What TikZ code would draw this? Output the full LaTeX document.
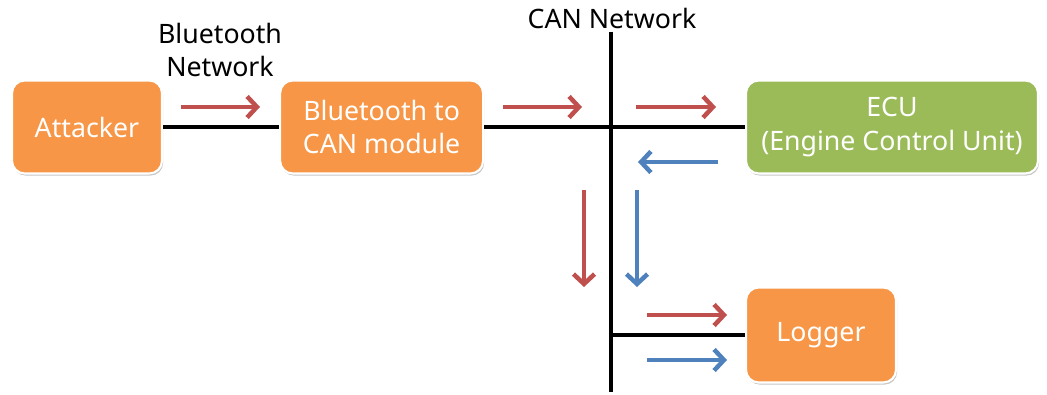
\documentclass[tikz,border=0pt]{standalone}
\usepackage{fontspec}
\setmainfont{Noto Sans}
\usetikzlibrary{arrows.meta,shadows}
\definecolor{boxorange}{HTML}{F79646}
\definecolor{boxgreen}{HTML}{9BBB59}
\definecolor{flowred}{HTML}{C0504D}
\definecolor{flowblue}{HTML}{4F81BD}

\begin{document}
\begin{tikzpicture}[
  box/.style={draw=white,line width=1.5pt,rounded corners=9pt,text=white,align=center,
    font=\fontsize{19}{24}\selectfont,inner sep=0pt,
    drop shadow={opacity=0.45,shadow xshift=0.8pt,shadow yshift=-1.5pt}},
  bus/.style={line width=2.2pt},
  flow/.style={line width=3.2pt,-{Straight Barb[length=7pt,width=15pt]}},
  netlabel/.style={font=\fontsize{19}{24}\selectfont,align=center}
]
\useasboundingbox (0,0) rectangle (26.175,9.875);
% boxes
\draw (2.175,6.7) node[box,fill=boxorange,minimum width=3.75cm,minimum height=2.325cm](attacker) {Attacker};
\draw (9.54,6.7) node[box,fill=boxorange,minimum width=5.075cm,minimum height=2.325cm](btcan) {Bluetooth to\\CAN module};
\draw (22.3,6.7) node[box,fill=boxgreen,minimum width=7.3cm,minimum height=2.325cm](ecu) {ECU\\(Engine Control Unit)};
\draw (20.525,1.5) node[box,fill=boxorange,minimum width=3.75cm,minimum height=2.375cm](logger) {Logger};
% labels
\draw (5.5,8.625) node[netlabel](btnet) {Bluetooth\\Network};
\draw (15.3,9.425) node[netlabel](cannet) {CAN Network};
% bus lines
\coordinate (cantop) at (15.275,9.075);
\coordinate (canbot) at (15.275,0.075);
\coordinate (jlog) at (15.275,1.5);
\draw[bus] (cantop) -- (canbot);
\draw[bus] (attacker.east) -- (btcan.west);
\draw[bus] (btcan.east) -- (ecu.west);
\draw[bus] (jlog) -- (logger.west);
% message flow
\coordinate (a1) at (4.525,7.2);  \coordinate (a2) at (6.5,7.2);
\coordinate (b1) at (12.575,7.2); \coordinate (b2) at (14.55,7.2);
\coordinate (c1) at (15.9,7.2);   \coordinate (c2) at (17.9,7.2);
\coordinate (d1) at (17.95,5.825); \coordinate (d2) at (15.95,5.825);
\coordinate (e1) at (14.6,5.125); \coordinate (e2) at (14.6,2.7);
\coordinate (f1) at (15.925,5.125); \coordinate (f2) at (15.925,2.7);
\coordinate (g1) at (16.175,2.0); \coordinate (g2) at (18.175,2.0);
\coordinate (h1) at (16.175,0.875); \coordinate (h2) at (18.175,0.875);
\draw[flow,flowred] (a1) -- (a2);
\draw[flow,flowred] (b1) -- (b2);
\draw[flow,flowred] (c1) -- (c2);
\draw[flow,flowblue] (d1) -- (d2);
\draw[flow,flowred] (e1) -- (e2);
\draw[flow,flowblue] (f1) -- (f2);
\draw[flow,flowred] (g1) -- (g2);
\draw[flow,flowblue] (h1) -- (h2);
\end{tikzpicture}
\end{document}
